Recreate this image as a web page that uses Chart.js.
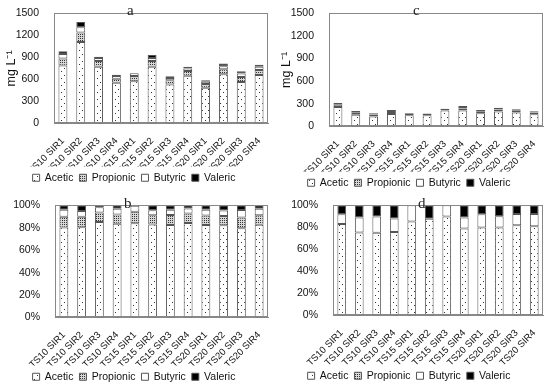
<!DOCTYPE html>
<html>
<head>
<meta charset="utf-8">
<script src="https://cdn.jsdelivr.net/npm/chart.js@4"></script>
<style>
  body { margin: 0; background: #fff; width: 550px; height: 385px; position: relative; overflow: hidden; }
  .panel { position: absolute; }
  .tag { position: absolute; font-family: "Liberation Serif", "Times New Roman", serif; font-size: 15px; color: #222; line-height: 1; }
</style>
</head>
<body>
<div class="panel" style="left:0;top:0;width:275px;height:193px"><canvas id="chartA"></canvas></div>
<div class="panel" style="left:275px;top:0;width:275px;height:198px"><canvas id="chartC"></canvas></div>
<div class="panel" style="left:0;top:192px;width:275px;height:200px"><canvas id="chartB"></canvas></div>
<div class="panel" style="left:275px;top:192px;width:275px;height:199px"><canvas id="chartD"></canvas></div>
<span class="tag" style="left:127px;top:3px">a</span>
<span class="tag" style="left:413px;top:3px">c</span>
<span class="tag" style="left:124px;top:196px">b</span>
<span class="tag" style="left:418px;top:196px">d</span>
<script>
// Catégories et séries (mg/L)
const categories = ["TS10 SIR1", "TS10 SIR2", "TS10 SIR3", "TS10 SIR4",
  "TS15 SIR1", "TS15 SIR2", "TS15 SIR3", "TS15 SIR4",
  "TS20 SIR1", "TS20 SIR2", "TS20 SIR3", "TS20 SIR4"];
const acidNames = ["Acetic", "Propionic", "Butyric", "Valeric"];

// panneau a (et b en %)
const aceticA = [790, 1110, 772, 555, 575, 772, 530, 650, 487, 670, 565, 660];
const propionicA = [95, 130, 78, 55, 70, 78, 58, 65, 50, 68, 68, 68];
const butyricA = [60, 70, 43, 35, 38, 40, 30, 35, 30, 40, 48, 45];
const valericA = [40, 70, 15, 20, 2, 42, 25, 22, 23, 37, 30, 25];

// panneau c (et d en %)
const aceticC = [259, 155, 132, 166, 150, 150, 212, 213, 175, 199, 186, 163];
const propionicC = [0, 0, 0, 0, 0, 0, 0, 0, 0, 0, 0, 0];
const butyricC = [28, 28, 26, 27, 26, 0, 24, 27, 26, 25, 23, 22];
const valericC = [25, 23, 18, 26, 0, 21, 0, 30, 18, 25, 18, 16];

const mgTicks = [0, 300, 600, 900, 1200, 1500];
const pctTicks = [0, 20, 40, 60, 80, 100];

// Motifs de remplissage
function makePattern(w, h, bg, dots) {
  const c = document.createElement("canvas");
  c.width = w;
  c.height = h;
  const g = c.getContext("2d");
  g.fillStyle = bg;
  g.fillRect(0, 0, w, h);
  g.fillStyle = "#333";
  dots.forEach((d) => g.fillRect(d[0], d[1], 1, 1));
  return g.createPattern(c, "repeat");
}

const fills = [
  makePattern(6, 7, "#fff", [[1, 1], [4, 5]]),
  makePattern(2, 2, "#d8d8d8", [[0, 0]]),
  "#fff",
  "#000",
];

// Cadre autour de la zone de tracé
const frame = {
  id: "frame",
  afterDraw(chart) {
    const { ctx, chartArea: a } = chart;
    ctx.save();
    ctx.strokeStyle = "#888";
    ctx.lineWidth = 1;
    ctx.strokeRect(Math.round(a.left) + 0.5, Math.round(a.top) + 0.5, Math.round(a.width) - 1, Math.round(a.height) - 1);
    ctx.restore();
  },
};

function toPercent(series) {
  const totals = series[0].map((_, i) => series.reduce((s, arr) => s + arr[i], 0));
  return series.map((arr) => arr.map((v, i) => (v / totals[i]) * 100));
}

function buildPanel(id, series, opts) {
  new Chart(document.getElementById(id), {
    type: "bar",
    data: {
      labels: categories,
      datasets: series.map((vals, k) => ({
        label: acidNames[k],
        data: vals,
        backgroundColor: fills[k],
        borderColor: "#555",
        borderWidth: 1,
        borderSkipped: false,
        barPercentage: 0.5,
        categoryPercentage: 1,
      })),
    },
    options: {
      responsive: true,
      maintainAspectRatio: false,
      animation: false,
      layout: { padding: opts.padding },
      plugins: {
        tooltip: { enabled: false },
        legend: {
          position: "bottom",
          labels: {
            boxWidth: 7,
            boxHeight: 7,
            padding: 6,
            color: "#111",
            font: { family: "Liberation Sans", size: 10.5 },
          },
        },
      },
      scales: {
        x: {
          stacked: true,
          grid: { display: false },
          border: { display: true, color: "#888" },
          ticks: {
            autoSkip: false,
            minRotation: 45,
            maxRotation: 45,
            labelOffset: 0,
            color: "#111",
            padding: 4,
            font: { family: "Liberation Sans", size: 9.5 },
          },
          afterFit: (s) => { s.height = opts.xHeight; },
        },
        y: {
          stacked: true,
          min: 0,
          max: opts.max,
          grid: { display: false },
          border: { display: true, color: "#888" },
          title: {
            display: !!opts.title,
            text: opts.title || "",
            color: "#111",
            padding: { top: 4, bottom: 0 },
            font: { family: "Liberation Sans", size: 12.5 },
          },
          afterBuildTicks: (s) => { s.ticks = opts.ticks.map((v) => ({ value: v })); },
          ticks: {
            color: "#111",
            padding: 7,
            font: { family: "Liberation Sans", size: 10.5 },
            callback: opts.pct ? (v) => v + "%" : (v) => v,
          },
          afterFit: (s) => { s.width = opts.yWidth; },
        },
      },
    },
    plugins: [frame],
  });
}

buildPanel("chartA", [aceticA, propionicA, butyricA, valericA], {
  max: 1500, ticks: mgTicks, title: "mg L\u207B\u00B9", yWidth: 54, xHeight: 43,
  padding: { top: 7, right: 7, left: 0, bottom: 0 },
});
buildPanel("chartC", [aceticC, propionicC, butyricC, valericC], {
  max: 1500, ticks: mgTicks, title: "mg L\u207B\u00B9", yWidth: 54, xHeight: 45,
  padding: { top: 7, right: 7, left: 0, bottom: 0 },
});
buildPanel("chartB", toPercent([aceticA, propionicA, butyricA, valericA]), {
  max: 100, ticks: pctTicks, pct: true, yWidth: 55, xHeight: 48,
  padding: { top: 11, right: 7, left: 0, bottom: 0 },
});
buildPanel("chartD", toPercent([aceticC, propionicC, butyricC, valericC]), {
  max: 100, ticks: pctTicks, pct: true, yWidth: 58, xHeight: 49,
  padding: { top: 10, right: 7, left: 0, bottom: 0 },
});
</script>
</body>
</html>
